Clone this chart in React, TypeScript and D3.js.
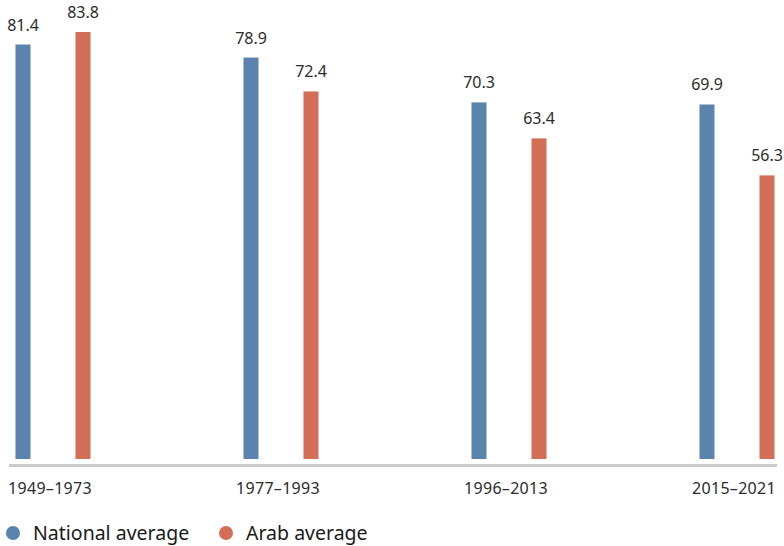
import React, { useEffect, useRef } from 'react';
import * as d3 from 'd3';

const periods = ['1949–1973', '1977–1993', '1996–2013', '2015–2021'];
const seriesNames = ['National average', 'Arab average'];
const nationalValues = [81.4, 78.9, 70.3, 69.9];
const arabValues = [83.8, 72.4, 63.4, 56.3];
const colors = ['#5a83ad', '#d46f57'];

const width = 784;
const height = 546;

const App: React.FC = () => {
  const svgRef = useRef<SVGSVGElement>(null);

  useEffect(() => {
    if (!svgRef.current) return;
    const svg = d3.select(svgRef.current);
    svg.selectAll('*').remove();

    const font = '"Noto Sans", "Open Sans", sans-serif';
    const baseY = 459;

    const x = d3.scalePoint<string>().domain(periods).range([53, 737]);
    const xSub = d3.scalePoint<string>().domain(seriesNames).range([-30, 30]);
    const y = d3.scaleLinear().domain([0, 83.8]).range([469, 32]);
    const barW = 15;

    const rows = periods.map((p, i) => ({
      period: p,
      values: [nationalValues[i], arabValues[i]],
    }));

    // baseline
    svg.append('line')
      .attr('x1', 9).attr('x2', 777)
      .attr('y1', 465.5).attr('y2', 465.5)
      .attr('stroke', '#cccccc')
      .attr('stroke-width', 3);

    const g = svg.selectAll('.grp')
      .data(rows)
      .enter().append('g')
      .attr('transform', d => `translate(${x(d.period)},0)`);

    const bars = g.selectAll('.bar')
      .data(d => d.values.map((v, j) => ({ name: seriesNames[j], v, j })))
      .enter();

    bars.append('rect')
      .attr('x', d => (xSub(d.name) as number) - barW / 2)
      .attr('y', d => y(d.v))
      .attr('width', barW)
      .attr('height', d => baseY - y(d.v))
      .attr('fill', d => colors[d.j]);

    bars.append('text')
      .attr('x', d => xSub(d.name) as number)
      .attr('y', d => y(d.v) - 14)
      .attr('text-anchor', 'middle')
      .attr('font-family', font)
      .attr('font-size', 16)
      .attr('fill', '#2b2b2b')
      .text(d => d.v.toFixed(1));

    g.append('text')
      .attr('x', -3)
      .attr('y', 494)
      .attr('text-anchor', 'middle')
      .attr('font-family', font)
      .attr('font-size', 16)
      .attr('letter-spacing', 0.3)
      .attr('fill', '#2b2b2b')
      .text(d => d.period);

    // legend
    const legendX = [13, 226];
    const lg = svg.selectAll('.lg')
      .data(seriesNames)
      .enter().append('g')
      .attr('transform', (d, i) => `translate(${legendX[i]},533)`);
    lg.append('circle').attr('r', 7).attr('fill', (d, i) => colors[i]);
    lg.append('text')
      .attr('x', 20)
      .attr('y', 7)
      .attr('font-family', font)
      .attr('font-size', 19.5)
      .attr('fill', '#1a1a1a')
      .text(d => d);
  }, []);

  return (
    <svg
      ref={svgRef}
      width={width}
      height={height}
      style={{ position: 'absolute', left: 0, top: 0, background: '#fff' }}
    />
  );
};

export default App;
